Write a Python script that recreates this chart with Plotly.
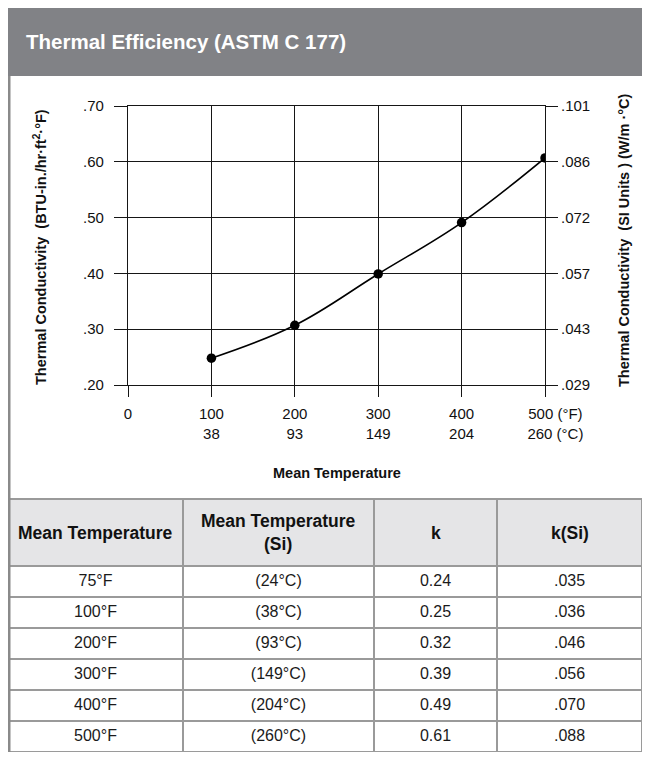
import plotly.graph_objects as go

# ---- data ----
temp_f = [100, 200, 300, 400, 500]
k_chart = [0.248, 0.307, 0.399, 0.491, 0.607]

x_tickvals = [0, 100, 200, 300, 400, 500]
x_ticktext = ["0", "100<br>38", "200<br>93", "300<br>149", "400<br>204",
              "\u00a0" * 5 + "500 (°F)<br>" + "\u00a0" * 5 + "260 (°C)"]
y_tickvals = [0.20, 0.30, 0.40, 0.50, 0.60, 0.70]
y_ticktext = [".20", ".30", ".40", ".50", ".60", ".70"]
y2_ticktext = [".029", ".043", ".057", ".072", ".086", ".101"]

tbl_header = ["Mean Temperature", "Mean Temperature<br>(Si)", "k", "k(Si)"]
tbl_temp_f = ["75°F", "100°F", "200°F", "300°F", "400°F", "500°F"]
tbl_temp_c = ["(24°C)", "(38°C)", "(93°C)", "(149°C)", "(204°C)", "(260°C)"]
tbl_k = ["0.24", "0.25", "0.32", "0.39", "0.49", "0.61"]
tbl_k_si = [".035", ".036", ".046", ".056", ".070", ".088"]

title_text = "Thermal Efficiency (ASTM C 177)"
y_title = "Thermal Conductivity\u00a0\u00a0(BTU-in./hr·ft<sup>2</sup>·°F)"
y2_title = "Thermal Conductivity\u00a0\u00a0(SI Units ) (W/m ·°C)"
x_title = "Mean Temperature"

# ---- layout constants (positions given in screen pixels) ----
OFF = 8                      # page body margin
W, H = 650 - 2 * OFF, 760 - 2 * OFF
FONT = "Liberation Sans, Arial, Helvetica, sans-serif"
GRID = "#161616"
TBL_X0 = 8
TBL_TOP = 499
HDR_H = 67
COL_PX = [175, 191, 123, W + OFF - (8 + 175 + 191 + 123)]
ROW_H = (H + OFF - TBL_TOP - HDR_H) / len(tbl_temp_f) - 0.05


def px_x(v):
    return (v - OFF) / W


def px_y(v):
    return 1 - (v - OFF) / H


fig = go.Figure()

fig.add_trace(go.Scatter(
    x=temp_f, y=k_chart, mode="lines+markers",
    line=dict(color="black", width=1.6, shape="spline", smoothing=1.1),
    marker=dict(color="black", size=9.5),
    showlegend=False, hoverinfo="x+y",
))
fig.add_trace(go.Scatter(
    x=temp_f, y=k_chart, mode="markers", yaxis="y2",
    marker=dict(opacity=0), showlegend=False, hoverinfo="skip",
))

fig.add_trace(go.Table(
    domain=dict(x=[max(px_x(TBL_X0), 0.0), 1.0], y=[0.0, px_y(TBL_TOP)]),
    columnwidth=COL_PX,
    header=dict(
        values=[""] * len(tbl_header),
        fill_color="#e5e5e7",
        line=dict(color="#9a9a9a", width=1.5),
        font=dict(family=FONT, size=17, color="#111"),
        align="center", height=HDR_H,
    ),
    cells=dict(
        values=[tbl_temp_f, tbl_temp_c, tbl_k, tbl_k_si],
        fill_color="white",
        line=dict(color="#9a9a9a", width=1.5),
        font=dict(family=FONT, size=16, color="#1a1a1a"),
        align="center", height=ROW_H,
    ),
))

# header labels centred in their cells
hdr_annots = []
acc = TBL_X0
for label, cw in zip(tbl_header, COL_PX):
    hdr_annots.append(dict(
        text=f"<b>{label}</b>", xref="paper", yref="paper",
        x=px_x(acc + cw / 2), y=px_y(TBL_TOP + HDR_H / 2),
        xanchor="center", yanchor="middle", showarrow=False,
        font=dict(family=FONT, size=17.5, color="#111"),
    ))
    acc += cw

axis_common = dict(
    showgrid=True, gridcolor=GRID, gridwidth=1.3,
    showline=True, linecolor=GRID, linewidth=1.3,
    ticks="outside", tickcolor=GRID, tickwidth=1.3,
    zeroline=False, automargin=False,
    tickfont=dict(family=FONT, size=15, color="#111"),
)

fig.update_layout(
    width=W, height=H,
    margin=dict(l=0, r=0, t=0, b=0, autoexpand=False),
    paper_bgcolor="white", plot_bgcolor="white",
    xaxis=dict(
        domain=[px_x(128), px_x(545)],
        range=[0, 500], tickmode="array",
        tickvals=x_tickvals, ticktext=x_ticktext,
        ticklen=11, mirror=True, ticklabelstandoff=4, **axis_common,
    ),
    yaxis=dict(
        domain=[px_y(385), px_y(106)],
        range=[0.2, 0.7], tickmode="array",
        tickvals=y_tickvals, ticktext=y_ticktext,
        ticklen=13, mirror=True, ticklabelstandoff=7, **axis_common,
    ),
    yaxis2=dict(
        overlaying="y", side="right", anchor="x",
        range=[0.2, 0.7], tickmode="array",
        tickvals=y_tickvals, ticktext=y2_ticktext,
        ticklen=12, showgrid=False, showline=False, automargin=False,
        ticks="outside", tickcolor=GRID, tickwidth=1.3, zeroline=False,
        tickfont=dict(family=FONT, size=15, color="#111"),
    ),
    shapes=[
        dict(type="rect", xref="paper", yref="paper",
             x0=px_x(7), x1=px_x(660), y0=px_y(76), y1=px_y(7),
             fillcolor="#818286", line=dict(width=0), layer="below"),
        dict(type="line", xref="paper", yref="paper",
             x0=px_x(9), x1=px_x(9), y0=px_y(770), y1=px_y(76),
             line=dict(color="#8a8a8a", width=3)),
    ],
    annotations=[
        dict(text=f"<b>{title_text}</b>", xref="paper", yref="paper",
             x=px_x(24), y=px_y(42), xanchor="left", yanchor="middle",
             showarrow=False, font=dict(family=FONT, size=20.5, color="white")),
        dict(text=f"<b>{y_title}</b>", xref="paper", yref="paper",
             x=px_x(40), y=px_y(247), xanchor="center", yanchor="middle",
             textangle=-90, showarrow=False,
             font=dict(family=FONT, size=14.5, color="#111")),
        dict(text=f"<b>{y2_title}</b>", xref="paper", yref="paper",
             x=px_x(624), y=px_y(240), xanchor="center", yanchor="middle",
             textangle=-90, showarrow=False,
             font=dict(family=FONT, size=14.5, color="#111")),
        dict(text=f"<b>{x_title}</b>", xref="paper", yref="paper",
             x=px_x(337), y=px_y(473), xanchor="center", yanchor="middle",
             showarrow=False, font=dict(family=FONT, size=14.5, color="#111")),
    ] + hdr_annots,
)

fig.write_html("out.html")
